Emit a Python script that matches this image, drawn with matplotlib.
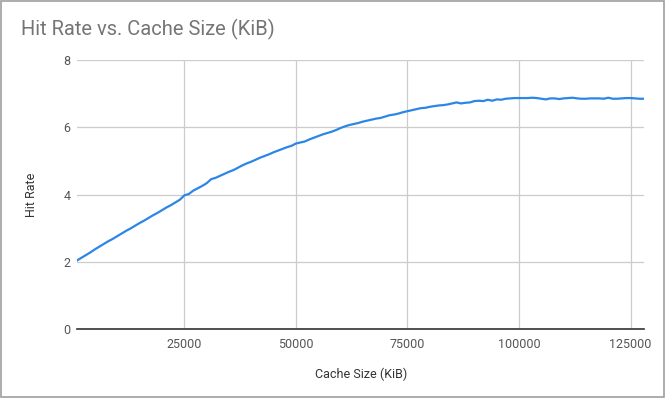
import matplotlib
matplotlib.use("Agg")
import matplotlib.pyplot as plt
from matplotlib.patches import Rectangle

# ─── Datos ────────────────────────────────────────────────────────────────────
cache_kib = list(range(1000, 129000, 1000))
hit_rate = [
    2.05, 2.13, 2.21, 2.29, 2.38, 2.46, 2.54, 2.62, 2.69, 2.77,
    2.85, 2.93, 3.00, 3.08, 3.16, 3.23, 3.31, 3.39, 3.46, 3.54,
    3.62, 3.69, 3.77, 3.85, 3.98, 4.02, 4.12, 4.19, 4.26, 4.34,
    4.46, 4.50, 4.56, 4.62, 4.68, 4.73, 4.80, 4.87, 4.93, 4.98,
    5.04, 5.10, 5.15, 5.20, 5.26, 5.31, 5.36, 5.41, 5.45, 5.52,
    5.55, 5.58, 5.64, 5.69, 5.74, 5.79, 5.83, 5.87, 5.92, 5.98,
    6.03, 6.07, 6.10, 6.13, 6.17, 6.20, 6.23, 6.26, 6.28, 6.32,
    6.36, 6.38, 6.41, 6.45, 6.48, 6.51, 6.54, 6.57, 6.58, 6.61,
    6.63, 6.65, 6.66, 6.68, 6.71, 6.74, 6.71, 6.73, 6.74, 6.78,
    6.79, 6.78, 6.82, 6.79, 6.83, 6.82, 6.85, 6.86, 6.87, 6.87,
    6.87, 6.87, 6.88, 6.87, 6.85, 6.83, 6.86, 6.86, 6.84, 6.86,
    6.87, 6.88, 6.86, 6.85, 6.85, 6.86, 6.86, 6.86, 6.85, 6.88,
    6.85, 6.85, 6.86, 6.87, 6.87, 6.86, 6.85, 6.85,
]
x_ticks = [25000, 50000, 75000, 100000, 125000]
y_ticks = [0, 2, 4, 6, 8]

plt.rcParams["font.family"] = ["Roboto", "DejaVu Sans"]

fig = plt.figure(figsize=(6.65, 3.98), dpi=100)
fig.patch.set_facecolor("white")
# borde gris alrededor de la figura
fig.patches.append(Rectangle((0.0008, 0.0013), 0.9984, 0.9974, transform=fig.transFigure,
                             fill=False, edgecolor="#9e9e9e", linewidth=1.2))

ax = fig.add_axes([0.1162, 0.1726, 0.8522, 0.6766])
ax.plot(cache_kib, hit_rate, color="#2b86e6", linewidth=1.6, solid_joinstyle="round")

ax.set_xlim(1000, 128000)
ax.set_ylim(0, 8)
ax.set_xticks(x_ticks)
ax.set_yticks(y_ticks)
ax.set_xticklabels([str(t) for t in x_ticks])
ax.set_yticklabels([str(t) for t in y_ticks])
ax.grid(True, color="#cccccc", linewidth=0.9)
ax.set_axisbelow(True)
ax.tick_params(length=0, labelsize=9, labelcolor="#555555")
ax.tick_params(axis="x", pad=6)
ax.tick_params(axis="y", pad=5)
for s in ["top", "right", "left"]:
    ax.spines[s].set_visible(False)
ax.spines["bottom"].set_color("#333333")
ax.spines["bottom"].set_linewidth(1.2)

ax.set_xlabel("Cache Size (KiB)", fontsize=9, color="#333333", labelpad=12)
ax.set_ylabel("Hit Rate", fontsize=9, color="#333333", labelpad=18)

fig.text(0.031, 0.925, "Hit Rate vs. Cache Size (KiB)", fontsize=14.5,
         color="#757575", ha="left", va="center")

fig.savefig("out.png", dpi=100, facecolor=fig.get_facecolor())
